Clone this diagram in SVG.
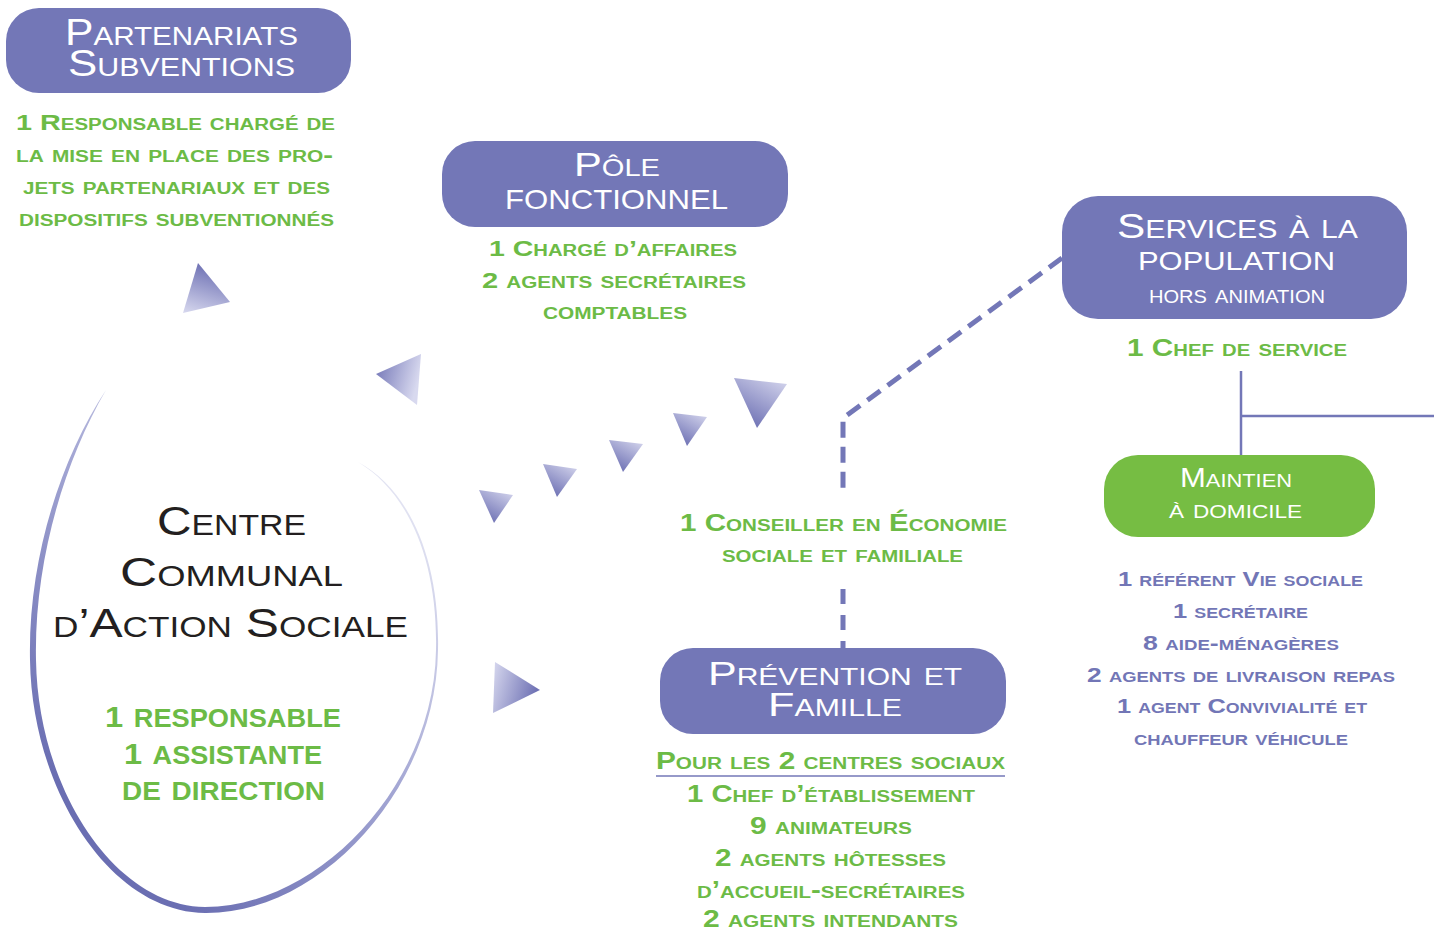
<svg xmlns="http://www.w3.org/2000/svg" width="1434" height="930" viewBox="0 0 1434 930">
<defs>
<style>
.box{fill:#7377b7}
.gbox{fill:#76bd43}
.t{font-family:"Liberation Sans",Arial,sans-serif;font-variant:small-caps}
.w{fill:#ffffff;font-weight:400}
.g{fill:#6cbb46;font-weight:700}
.p{fill:#7276b6;font-weight:700}
.k{fill:#231f20;font-weight:400}
.dash{fill:none;stroke:#7377b7;stroke-width:5;stroke-dasharray:16 9}
.solid{fill:none;stroke:#7377b7;stroke-width:2.5}
</style>
<linearGradient id="gDown" x1="1" y1="0" x2="0.4" y2="1"><stop offset="0" stop-color="#d8d9ef"/><stop offset="1" stop-color="#7073b5"/></linearGradient>
<linearGradient id="gUp" x1="0.3" y1="0" x2="0" y2="1"><stop offset="0" stop-color="#7073b5"/><stop offset="1" stop-color="#d8d9ef"/></linearGradient>
<linearGradient id="gLeft" x1="0" y1="0" x2="1" y2="0.3"><stop offset="0" stop-color="#7073b5"/><stop offset="1" stop-color="#d8d9ef"/></linearGradient>
<linearGradient id="gRight" x1="0" y1="0" x2="1" y2="0.3"><stop offset="0" stop-color="#d8d9ef"/><stop offset="1" stop-color="#7073b5"/></linearGradient>
<linearGradient id="gEll" gradientUnits="userSpaceOnUse" x1="60" y1="780" x2="400" y2="450"><stop offset="0" stop-color="#6a6eb2"/><stop offset="0.5" stop-color="#a4a7d4"/><stop offset="1" stop-color="#ecedf7"/></linearGradient>
</defs>
<rect width="1434" height="930" fill="#ffffff"/>

<g id="connectors">
<polyline class="dash" points="1062,258 843,418 843,495"/>
<line class="dash" x1="843" y1="589" x2="843" y2="648" style="stroke-dasharray:15 11"/>
<line class="solid" x1="1241" y1="371" x2="1241" y2="455"/>
<line class="solid" x1="1241" y1="416" x2="1434" y2="416"/>
<g id="arrows">
<polygon points="183,313 198,263 230,302" fill="url(#gUp)"/>
<polygon points="376,374 421,354 417,405" fill="url(#gLeft)"/>
<polygon points="734,378 787,384 757,428" fill="url(#gDown)"/>
<polygon points="673,413 707,417 687,446" fill="url(#gDown)"/>
<polygon points="609,440 643,444 623,472" fill="url(#gDown)"/>
<polygon points="543,464 577,469 557,497" fill="url(#gDown)"/>
<polygon points="479,490 513,495 494,523" fill="url(#gDown)"/>
<polygon points="495,662 540,690 493,713" fill="url(#gRight)"/>
</g>
</g>

<g id="ccas">
<path fill="url(#gEll)" d="M106,390 C60,460 28,560 30,660 C32,790 110,912 205,913 C320,914 436,790 438,650 C440,560 410,490 358,462 C408,492 438,560 436,650 C434,786 318,907 205,907 C114,906 38,788 36,660 C34,562 64,462 106,390 Z"/>
<text class="t k" font-size="41" x="157" y="535" textLength="149" lengthAdjust="spacingAndGlyphs">Centre</text>
<text class="t k" font-size="41" x="120" y="586" textLength="223" lengthAdjust="spacingAndGlyphs">Communal</text>
<text class="t k" font-size="41" x="53" y="637" textLength="355" lengthAdjust="spacingAndGlyphs">d’Action Sociale</text>
<text class="t g" font-size="35" x="105" y="727" textLength="236" lengthAdjust="spacingAndGlyphs"><tspan font-size="30">1</tspan> responsable</text>
<text class="t g" font-size="35" x="124" y="764" textLength="198" lengthAdjust="spacingAndGlyphs"><tspan font-size="30">1</tspan> assistante</text>
<text class="t g" font-size="35" x="122" y="800" textLength="203" lengthAdjust="spacingAndGlyphs">de direction</text>
</g>

<g id="partenariats">
<rect class="box" x="6" y="8" width="345" height="85" rx="33"/>
<text class="t w" font-size="36" x="65" y="45" textLength="233" lengthAdjust="spacingAndGlyphs">Partenariats</text>
<text class="t w" font-size="36" x="68" y="76" textLength="227" lengthAdjust="spacingAndGlyphs">Subventions</text>
<text class="t g" font-size="22.5" x="16" y="130" textLength="319" lengthAdjust="spacingAndGlyphs">1 Responsable chargé de</text>
<text class="t g" font-size="22.5" x="16" y="162" textLength="317" lengthAdjust="spacingAndGlyphs">la mise en place des pro-</text>
<text class="t g" font-size="22.5" x="23" y="194" textLength="307" lengthAdjust="spacingAndGlyphs">jets partenariaux et des</text>
<text class="t g" font-size="22.5" x="19" y="226" textLength="315" lengthAdjust="spacingAndGlyphs">dispositifs subventionnés</text>
</g>

<g id="pole">
<rect class="box" x="442" y="141" width="346" height="86" rx="33"/>
<text class="t w" font-size="33" x="574" y="176" textLength="86" lengthAdjust="spacingAndGlyphs">Pôle</text>
<text class="t w" font-size="40" x="505" y="209" textLength="223" lengthAdjust="spacingAndGlyphs">fonctionnel</text>
<text class="t g" font-size="22.5" x="489" y="256" textLength="248" lengthAdjust="spacingAndGlyphs">1 Chargé d’affaires</text>
<text class="t g" font-size="22.5" x="482" y="288" textLength="264" lengthAdjust="spacingAndGlyphs">2 agents secrétaires</text>
<text class="t g" font-size="22.5" x="543" y="319" textLength="144" lengthAdjust="spacingAndGlyphs">comptables</text>
</g>

<g id="services">
<rect class="box" x="1062" y="196" width="345" height="123" rx="36"/>
<text class="t w" font-size="35" x="1117" y="238" textLength="241" lengthAdjust="spacingAndGlyphs">Services à la</text>
<text class="t w" font-size="37" x="1138" y="270" textLength="197" lengthAdjust="spacingAndGlyphs">population</text>
<text class="t w" font-size="26" x="1149" y="303" textLength="176" lengthAdjust="spacingAndGlyphs">hors animation</text>
<text class="t g" font-size="23.5" x="1127" y="356" textLength="220" lengthAdjust="spacingAndGlyphs">1 Chef de service</text>
</g>

<g id="maintien">
<rect class="gbox" x="1104" y="455" width="271" height="82" rx="34"/>
<text class="t w" font-size="27" x="1180" y="487" textLength="112" lengthAdjust="spacingAndGlyphs">Maintien</text>
<text class="t w" font-size="26" x="1169" y="518" textLength="133" lengthAdjust="spacingAndGlyphs">à domicile</text>
<text class="t p" font-size="20" x="1118" y="586" textLength="245" lengthAdjust="spacingAndGlyphs">1 référent Vie sociale</text>
<text class="t p" font-size="20" x="1173" y="618" textLength="135" lengthAdjust="spacingAndGlyphs">1 secrétaire</text>
<text class="t p" font-size="20" x="1143" y="650" textLength="196" lengthAdjust="spacingAndGlyphs">8 aide-ménagères</text>
<text class="t p" font-size="20" x="1087" y="682" textLength="308" lengthAdjust="spacingAndGlyphs">2 agents de livraison repas</text>
<text class="t p" font-size="20" x="1117" y="713" textLength="250" lengthAdjust="spacingAndGlyphs">1 agent Convivialité et</text>
<text class="t p" font-size="20" x="1134" y="745" textLength="214" lengthAdjust="spacingAndGlyphs">chauffeur véhicule</text>
</g>

<g id="conseiller">
<text class="t g" font-size="23" x="680" y="531" textLength="327" lengthAdjust="spacingAndGlyphs">1 Conseiller en Économie</text>
<text class="t g" font-size="23" x="722" y="562" textLength="241" lengthAdjust="spacingAndGlyphs">sociale et familiale</text>
</g>

<g id="prevention">
<rect class="box" x="660" y="648" width="346" height="86" rx="33"/>
<text class="t w" font-size="33" x="708" y="685" textLength="254" lengthAdjust="spacingAndGlyphs">Prévention et</text>
<text class="t w" font-size="33" x="768" y="716" textLength="134" lengthAdjust="spacingAndGlyphs">Famille</text>
<text class="t g" font-size="23" x="656" y="769" textLength="349" lengthAdjust="spacingAndGlyphs">Pour les 2 centres sociaux</text>
<line x1="656" y1="776" x2="1005" y2="776" stroke="#7377b7" stroke-width="1.5"/>
<text class="t g" font-size="23" x="687" y="802" textLength="288" lengthAdjust="spacingAndGlyphs">1 Chef d’établissement</text>
<text class="t g" font-size="23" x="750" y="834" textLength="162" lengthAdjust="spacingAndGlyphs">9 animateurs</text>
<text class="t g" font-size="23" x="715" y="866" textLength="231" lengthAdjust="spacingAndGlyphs">2 agents hôtesses</text>
<text class="t g" font-size="23" x="697" y="898" textLength="268" lengthAdjust="spacingAndGlyphs">d’accueil-secrétaires</text>
<text class="t g" font-size="23" x="703" y="927" textLength="255" lengthAdjust="spacingAndGlyphs">2 agents intendants</text>
</g>
</svg>
